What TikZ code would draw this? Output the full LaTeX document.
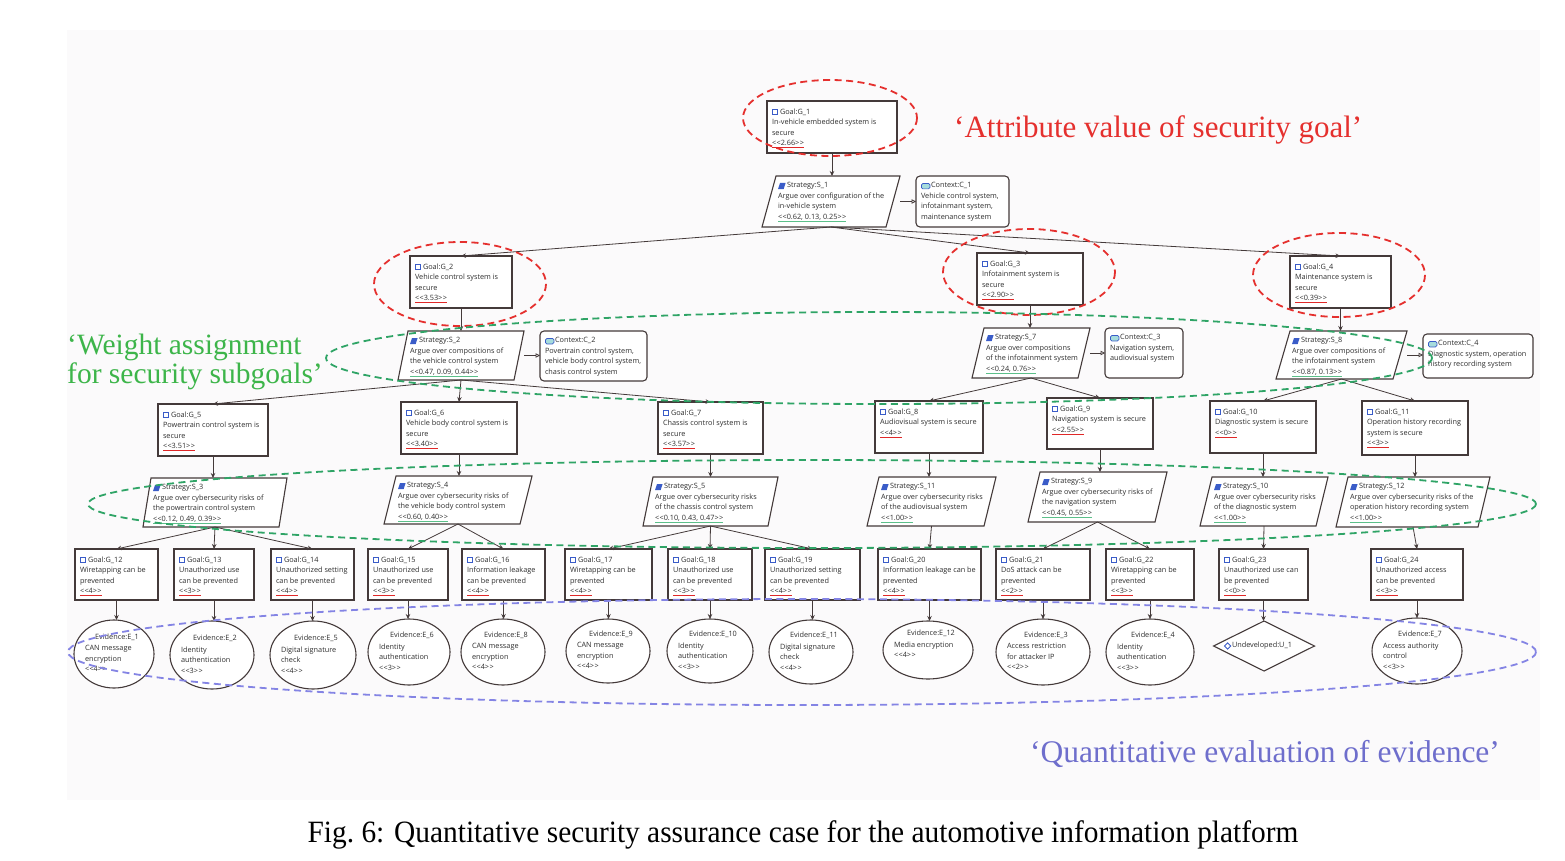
\documentclass[tikz,border=0pt]{standalone}
\usepackage{fontspec}
\setmainfont{Liberation Serif}
\newfontfamily\gsn{Open Sans}
\usetikzlibrary{arrows.meta,shapes.geometric}
\definecolor{bg}{HTML}{FBFAFB}
\definecolor{boxc}{HTML}{443A3A}
\definecolor{txtc}{HTML}{2E2E2E}
\definecolor{redd}{HTML}{E5302E}
\definecolor{greend}{HTML}{2FA466}
\definecolor{greent}{HTML}{3DB54A}
\definecolor{blued}{HTML}{8484E4}
\definecolor{bluet}{HTML}{6E6ECC}
\definecolor{icb}{HTML}{3A5CC8}
\definecolor{ctxf}{HTML}{A6DCDC}
\definecolor{rul}{HTML}{E02828}
\definecolor{gul}{HTML}{5CC08A}
\newsavebox\valbox
\newcommand\vv[1]{<\kern0.4pt<#1>\kern0.4pt>}
\newcommand\rv[1]{\sbox\valbox{\vv{#1}}\rlap{\textcolor{rul}{\rule[-2.8pt]{\wd\valbox}{1.3pt}}}\usebox\valbox}
\newcommand\gv[1]{\sbox\valbox{\vv{#1}}\rlap{\textcolor{gul}{\rule[-2.8pt]{\wd\valbox}{1.3pt}}}\usebox\valbox}
\tikzset{
 gbox/.style={draw=boxc, line width=1.1pt, fill=white, inner sep=0pt, outer sep=0pt},
 txt/.style={inner sep=0pt, outer sep=0pt, align=left, text=txtc, font=\gsn\fontsize{7.3}{10.5}\selectfont},
 conn/.style={draw=boxc, line width=0.8pt, -{Stealth[length=5pt,width=4.5pt]}},
 cconn/.style={draw=boxc, line width=0.8pt, -{Triangle[open,length=4.5pt,width=4.5pt]}},
 redell/.style={draw=redd, line width=1.8pt, dash pattern=on 7pt off 4.5pt},
 greenell/.style={draw=greend, line width=1.8pt, dash pattern=on 7pt off 4.5pt},
 blueell/.style={draw=blued, line width=1.8pt, dash pattern=on 7pt off 4.5pt},
}
% goal box: name x0 y0 x1 y1 text
\newcommand\mygoal[6]{%
 \node[gbox, anchor=north west, minimum width={#4-#2}, minimum height={#5-#3}] (#1) at (#2,#3) {};
 \node[txt, anchor=north west] (#1t) at ([shift={(5pt,-7.5pt)}]#1.north west) {\hspace{8pt}#6};
 \draw[icb, line width=1pt] ([shift={(0.6pt,-1.2pt)}]#1t.north west) rectangle ++(5pt,-5pt);
}
% strategy: name x0 y0 x1 y1 slant text
\newcommand\mystrat[7]{%
 \node[inner sep=0pt, outer sep=0pt, anchor=north west, minimum width={#4-#2}, minimum height={#5-#3}] (#1) at (#2,#3) {};
 \draw[gbox] ([xshift=#6pt]#1.north west) -- (#1.north east) -- ([xshift=-#6pt]#1.south east) -- (#1.south west) -- cycle;
 \node[txt, anchor=north west] (#1t) at ([shift={(#6pt+2pt,-6.5pt)}]#1.north west) {\hspace{9pt}#7};
 \fill[icb] ([shift={(2pt,-0.5pt)}]#1t.north west) -- ++(5.6pt,0pt) -- ++(-2pt,-6.2pt) -- ++(-5.6pt,0pt) -- cycle;
}
% context: name x0 y0 x1 y1 text
\newcommand\myctx[6]{%
 \node[gbox, rounded corners=4pt, anchor=north west, minimum width={#4-#2}, minimum height={#5-#3}] (#1) at (#2,#3) {};
 \node[txt, anchor=north west] (#1t) at ([shift={(5pt,-6.5pt)}]#1.north west) {\hspace{10pt}#6};
 \draw[icb, fill=ctxf, line width=0.7pt, rounded corners=1.4pt] ([shift={(0.4pt,-1pt)}]#1t.north west) rectangle ++(8.5pt,-5.4pt);
}
% evidence: name cx cy rx ry header body
\newcommand\myevid[7]{%
 \node[gbox, ellipse, minimum width={2*#4}, minimum height={2*#5}] (#1) at (#2,#3) {};
 \node[txt, anchor=north] (#1h) at (#2+3,#3-20.5) {#6};
 \node[txt, anchor=north west] (#1t) at (#2-#4+11,#3-8.5) {#7};
}
\begin{document}
\begin{tikzpicture}[x=1pt,y=-1pt]
\useasboundingbox (0,0) rectangle (1565,861);
\fill[bg] (67,30) rectangle (1540,800);

% ---- level 1
\mygoal{g1}{767}{101}{897}{153}{Goal:G\_1\\In-vehicle embedded system is\\secure\\\rv{2.66}}
\mystrat{s1}{762}{176}{900}{227}{14}{Strategy:S\_1\\Argue over configuration of the\\in-vehicle system\\\gv{0.62, 0.13, 0.25}}
\myctx{c1}{916}{176}{1009}{227}{Context:C\_1\\Vehicle control system,\\infotainmant system,\\maintenance system}

% ---- level 2
\mygoal{g2}{410}{256}{512}{308}{Goal:G\_2\\Vehicle control system is\\secure\\\rv{3.53}}
\mygoal{g3}{977}{253}{1083}{305}{Goal:G\_3\\Infotainment system is\\secure\\\rv{2.90}}
\mygoal{g4}{1290}{256}{1391}{308}{Goal:G\_4\\Maintenance system is\\secure\\\rv{0.39}}

\mystrat{s2}{398}{331}{524}{380}{10}{Strategy:S\_2\\Argue over compositions of\\the vehicle control system\\\gv{0.47, 0.09, 0.44}}
\myctx{c2}{540}{331}{647}{381}{Context:C\_2\\Povertrain control system,\\vehicle body control system,\\chasis control system}
\mystrat{s7}{972}{328}{1090}{378}{12}{Strategy:S\_7\\Argue over compositions\\of the infotainment system\\\gv{0.24, 0.76}}
\myctx{c3}{1105}{328}{1183}{378}{Context:C\_3\\Navigation system,\\audiovisual system}
\mystrat{s8}{1276}{331}{1407}{379}{14}{Strategy:S\_8\\Argue over compositions of\\the infotainment system\\\gv{0.87, 0.13}}
\myctx{c4}{1423}{334}{1533}{378}{Context:C\_4\\Diagnostic system, operation\\history recording system}

% ---- level 3
\mygoal{g5}{158}{404}{268}{456}{Goal:G\_5\\Powertrain control system is\\secure\\\rv{3.51}}
\mygoal{g6}{401}{402}{517}{454}{Goal:G\_6\\Vehicle body control system is\\secure\\\rv{3.40}}
\mygoal{g7}{658}{402}{763}{454}{Goal:G\_7\\Chassis control system is\\secure\\\rv{3.57}}
\mygoal{g8}{875}{401}{983}{453}{Goal:G\_8\\Audiovisual system is secure\\\rv{4}}
\mygoal{g9}{1047}{398}{1153}{449}{Goal:G\_9\\Navigation system is secure\\\rv{2.55}}
\mygoal{g10}{1210}{401}{1316}{453}{Goal:G\_10\\Diagnostic system is secure\\\rv{0}}
\mygoal{g11}{1362}{401}{1468}{455}{Goal:G\_11\\Operation history recording\\system is secure\\\rv{3}}

% ---- level 4
\mystrat{s3}{143}{478}{287}{527}{8}{Strategy:S\_3\\Argue over cybersecurity risks of\\the powertrain control system\\\gv{0.12, 0.49, 0.39}}
\mystrat{s4}{384}{476}{532}{524}{12}{Strategy:S\_4\\Argue over cybersecurity risks of\\the vehicle  body control system\\\gv{0.60, 0.40}}
\mystrat{s5}{643}{477}{778}{526}{10}{Strategy:S\_5\\Argue over cybersecurity risks\\of the chassis control system\\\gv{0.10, 0.43, 0.47}}
\mystrat{s11}{867}{477}{996}{526}{12}{Strategy:S\_11\\Argue over cybersecurity risks\\of the audiovisual system\\\gv{1.00}}
\mystrat{s9}{1028}{472}{1167}{522}{12}{Strategy:S\_9\\Argue over cybersecurity risks of\\the navigation system\\\gv{0.45, 0.55}}
\mystrat{s10}{1200}{477}{1328}{526}{12}{Strategy:S\_10\\Argue over cybersecurity risks\\of the diagnostic system\\\gv{1.00}}
\mystrat{s12}{1336}{477}{1490}{527}{12}{Strategy:S\_12\\Argue over cybersecurity risks of the\\operation history recording system\\\gv{1.00}}

% ---- level 5
\mygoal{g12}{75}{549}{158}{600}{Goal:G\_12\\Wiretapping can be\\prevented\\\rv{4}}
\mygoal{g13}{174}{549}{254}{600}{Goal:G\_13\\Unauthorized use\\can be prevented\\\rv{3}}
\mygoal{g14}{271}{549}{354}{600}{Goal:G\_14\\Unauthorized setting\\can be prevented\\\rv{4}}
\mygoal{g15}{368}{549}{448}{600}{Goal:G\_15\\Unauthorized use\\can be prevented\\\rv{3}}
\mygoal{g16}{462}{549}{545}{600}{Goal:G\_16\\Information leakage\\can be prevented\\\rv{4}}
\mygoal{g17}{565}{549}{652}{600}{Goal:G\_17\\Wiretapping can be\\prevented\\\rv{4}}
\mygoal{g18}{668}{549}{752}{600}{Goal:G\_18\\Unauthorized use\\can be prevented\\\rv{3}}
\mygoal{g19}{765}{549}{860}{600}{Goal:G\_19\\Unauthorized setting\\can be prevented\\\rv{4}}
\mygoal{g20}{878}{549}{981}{600}{Goal:G\_20\\Information leakage can be\\prevented\\\rv{4}}
\mygoal{g21}{996}{549}{1090}{600}{Goal:G\_21\\DoS attack can be\\prevented\\\rv{2}}
\mygoal{g22}{1106}{549}{1194}{600}{Goal:G\_22\\Wiretapping can be\\prevented\\\rv{3}}
\mygoal{g23}{1219}{549}{1308}{600}{Goal:G\_23\\Unauthorized use can\\be prevented\\\rv{0}}
\mygoal{g24}{1371}{549}{1463}{600}{Goal:G\_24\\Unauthorized access\\can be prevented\\\rv{3}}

% ---- evidence
\myevid{e1}{114}{654}{40}{34}{Evidence:E\_1}{CAN message\\encryption\\\vv{4}}
\myevid{e2}{212}{655}{42}{34}{Evidence:E\_2}{Identity\\authentication\\\vv{3}}
\myevid{e5}{313}{655}{43}{34}{Evidence:E\_5}{Digital signature\\check\\\vv{4}}
\myevid{e6}{409}{652}{41}{33}{Evidence:E\_6}{Identity\\authentication\\\vv{3}}
\myevid{e8}{503}{652}{42}{33}{Evidence:E\_8}{CAN message\\encryption\\\vv{4}}
\myevid{e9}{608}{651}{42}{32}{Evidence:E\_9}{CAN message\\encryption\\\vv{4}}
\myevid{e10}{710}{651}{43}{32}{Evidence:E\_10}{Identity\\authentication\\\vv{3}}
\myevid{e11}{811}{652}{42}{32}{Evidence:E\_11}{Digital signature\\check\\\vv{4}}
\myevid{e12}{928}{650}{45}{29}{Evidence:E\_12}{Media encryption\\\vv{4}}
\myevid{e3}{1043}{652}{47}{33}{Evidence:E\_3}{Access restriction\\for attacker IP\\\vv{2}}
\myevid{e4}{1150}{652}{44}{33}{Evidence:E\_4}{Identity\\authentication\\\vv{3}}
\myevid{e7}{1417}{651}{45}{33}{Evidence:E\_7}{Access authority\\control\\\vv{3}}
\node[gbox, diamond, minimum width=101pt, minimum height=50pt] (u1) at (1264,646) {};
\node[txt, anchor=west] (u1t) at (1224,646) {\hspace{8pt}Undeveloped:U\_1};
\draw[icb, line width=0.9pt] ([xshift=0.4pt]u1t.west) -- ++(3.2pt,3.2pt) -- ++(3.2pt,-3.2pt) -- ++(-3.2pt,-3.2pt) -- cycle;

% ---- connectors
\draw[conn] (g1.south) -- (g1.south |- s1.north);
\draw[cconn] (s1.east) -- (c1.west);
\foreach \t in {g2,g3,g4} \draw[conn] (s1.south) -- (\t.north);
\draw[conn] (g2.south) -- (g2.south |- s2.north);
\draw[conn] (g3.south) -- (g3.south |- s7.north);
\draw[conn] (g4.south) -- (g4.south |- s8.north);
\draw[cconn] (s2.east) -- (c2.west |- s2.east);
\draw[cconn] (s7.east) -- (c3.west |- s7.east);
\draw[cconn] (s8.east) -- (c4.west |- s8.east);
\foreach \t in {g5,g6,g7} \draw[conn] (s2.south) -- (\t.north);
\foreach \t in {g8,g9} \draw[conn] (s7.south) -- (\t.north);
\foreach \t in {g10,g11} \draw[conn] (s8.south) -- (\t.north);
\draw[conn] (g5.south) -- (g5.south |- s3.north);
\draw[conn] (g6.south) -- (g6.south |- s4.north);
\draw[conn] (g7.south) -- (g7.south |- s5.north);
\draw[conn] (g8.south) -- (g8.south |- s11.north);
\draw[conn] (g9.south) -- (g9.south |- s9.north);
\draw[conn] (g10.south) -- (g10.south |- s10.north);
\draw[conn] (g11.south) -- (g11.south |- s12.north);
\foreach \t in {g12,g13,g14} \draw[conn] (s3.south) -- (\t.north);
\foreach \t in {g15,g16} \draw[conn] (s4.south) -- (\t.north);
\foreach \t in {g17,g18,g19} \draw[conn] (s5.south) -- (\t.north);
\draw[conn] (s11.south) -- (g20.north);
\foreach \t in {g21,g22} \draw[conn] (s9.south) -- (\t.north);
\draw[conn] (s10.south) -- (g23.north);
\draw[conn] (s12.south) -- (g24.north);
\foreach \g/\e in {g12/e1,g13/e2,g14/e5,g15/e6,g16/e8,g17/e9,g18/e10,g19/e11,g20/e12,g21/e3,g22/e4,g23/u1,g24/e7}
  \draw[conn] (\g.south) -- (\g.south |- \e.north);

% ---- annotation ellipses
\draw[redell] (830,118) ellipse [x radius=87, y radius=38];
\draw[redell] (460,284) ellipse [x radius=86, y radius=42];
\draw[redell] (1029,272) ellipse [x radius=86, y radius=43];
\draw[redell] (1339,275) ellipse [x radius=86, y radius=42];
\draw[greenell] (879,358) ellipse [x radius=553, y radius=46];
\draw[greenell] (812,504) ellipse [x radius=724, y radius=44];
\draw[blueell] (802,652) ellipse [x radius=734, y radius=53];

% ---- annotation texts
\node[anchor=west, inner sep=0pt, text=redd, font=\fontsize{31}{34}\selectfont] (annr) at (954,130) {‘Attribute value of security goal’};
\node[anchor=west, inner sep=0pt, align=left, text=greent, font=\fontsize{29.5}{29}\selectfont] (anng) at (67,362) {‘Weight assignment\\for security subgoals’};
\node[anchor=west, inner sep=0pt, text=bluet, font=\fontsize{31.5}{34}\selectfont] (annb) at (1030,754) {‘Quantitative evaluation of evidence’};
\node[inner sep=0pt, xscale=0.948, transform shape, font=\fontsize{31}{34}\selectfont] (cap) at (803,835) {Fig.~6: Quantitative security assurance case for the automotive information platform};
\end{tikzpicture}
\end{document}
